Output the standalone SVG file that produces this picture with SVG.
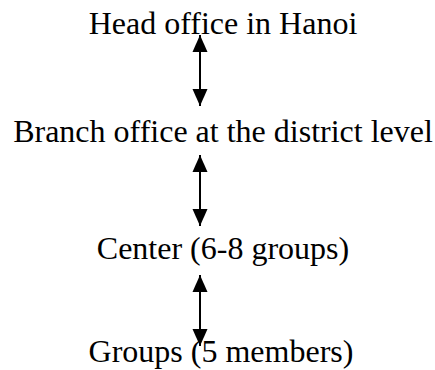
<svg xmlns="http://www.w3.org/2000/svg" width="435" height="370" viewBox="0 0 435 370">
  <style>
    .label { font-family: "Liberation Serif", "Times New Roman", serif; font-size: 32px; fill: #000; text-anchor: middle; }
    .link { stroke: #000; stroke-width: 2; fill: none; marker-start: url(#head); marker-end: url(#head); }
  </style>
  <defs>
    <marker id="head" markerUnits="userSpaceOnUse" markerWidth="17" markerHeight="16" refX="17" refY="8" orient="auto-start-reverse">
      <path d="M0,0.5 L17,8 L0,15.5 Z" fill="#000"/>
    </marker>
  </defs>
  <rect width="435" height="370" fill="#fff"/>
  <g id="head-office">
    <text class="label" x="223" y="34">Head office in Hanoi</text>
  </g>
  <g id="branch-office">
    <text class="label" x="223" y="142">Branch office at the district level</text>
  </g>
  <g id="center">
    <text class="label" x="223" y="259">Center (6-8 groups)</text>
  </g>
  <g id="groups">
    <text class="label" x="221" y="362">Groups (5 members)</text>
  </g>
  <g id="connectors">
    <line class="link" x1="200" y1="35" x2="200" y2="106"/>
    <line class="link" x1="200" y1="155" x2="200" y2="226"/>
    <line class="link" x1="200" y1="275" x2="200" y2="346"/>
  </g>
</svg>
